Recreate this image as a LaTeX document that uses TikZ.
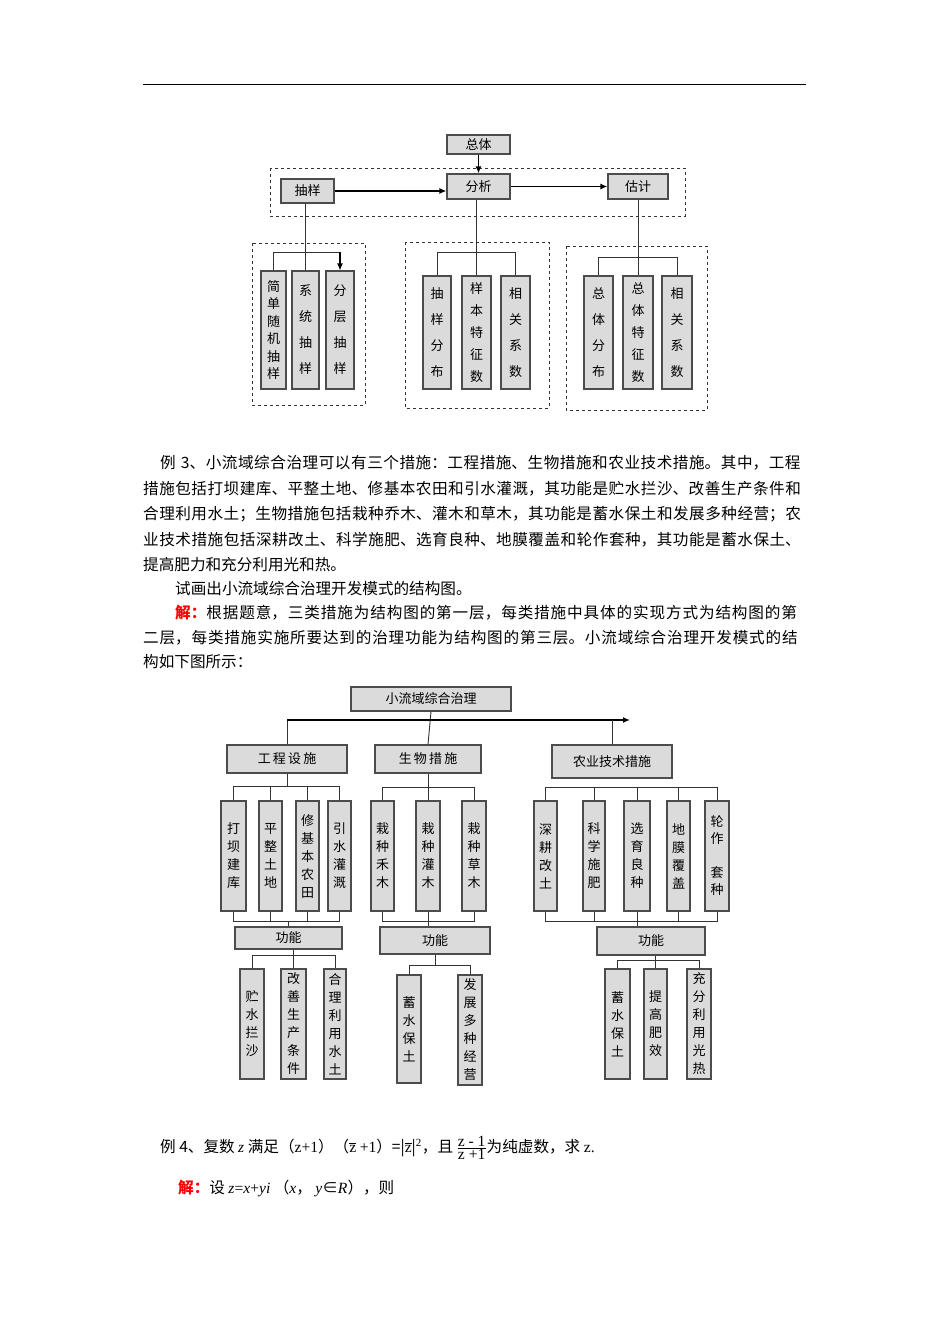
\documentclass[tikz,border=0pt]{standalone}
\usepackage{fontspec}
\usepackage{amsmath}
\newfontfamily\cjk{Noto Sans CJK SC}
\newfontfamily\lat{Liberation Serif}
\usetikzlibrary{arrows.meta,calc}
\XeTeXlinebreaklocale "zh"
\XeTeXlinebreakskip=0pt plus 3pt
\newcommand\iz[1]{{\lat\itshape #1}}
\newcommand\bx[7]{\node[bx,minimum width={(#4-#2)*1pt},minimum height={(#5-#3)*1pt},font=\cjk\fontsize{13}{#7}\selectfont] (#1) at ({(#2+#4)/2},{(#3+#5)/2}) {#6};}
\tikzset{
 bx/.style={draw=black!70,fill=black!14,line width=1.1pt,inner sep=0pt,align=center},
 dbox/.style={draw=black!80,dashed,line width=0.8pt},
 ln/.style={draw=black!80,line width=0.9pt},
 ar/.style={draw=black,line width=1.4pt,-{Latex[length=7pt,width=6pt]}},
 jline/.style={anchor=base west,inner sep=0pt,text width=663pt,font=\cjk\fontsize{15.6}{20}\selectfont,execute at begin node={\parfillskip=0pt\parindent=0pt}},
 pline/.style={anchor=base west,inner sep=0pt,font=\cjk\fontsize{15.6}{20}\selectfont}
}
\begin{document}
\begin{tikzpicture}[x=1pt,y=-1pt]
\useasboundingbox[fill=white] (0,0) rectangle (950,1344);
\draw[line width=0.8pt] (143,84) -- (806,84);
% ---------- top diagram
\draw[dbox] (270,168) rectangle (685,216);
\draw[dbox] (252,243) rectangle (365,405);
\draw[dbox] (405,242) rectangle (549,408);
\draw[dbox] (566,246) rectangle (707,410);
\bx{zt}{447}{135}{510}{154}{总体}{15}
\bx{cy}{281}{179}{334}{203}{抽样}{15}
\bx{fx}{447}{174}{510}{199}{分析}{15}
\bx{gj}{608}{174}{668}{199}{估计}{15}
\draw[ar] (zt.south) -- (fx.north);
\draw[ar] (cy.east) -- (cy.east -| fx.west);
\draw[ar] (fx.east |- gj.west) -- (gj.west);
\bx{a1}{261}{271}{286}{389}{简\\单\\随\\机\\抽\\样}{17.5}
\bx{a2}{292}{271}{319}{389}{系\\统\\抽\\样}{26}
\bx{a3}{326}{271}{354}{389}{分\\层\\抽\\样}{26}
\coordinate (ba) at (0,252);
\draw[ln] (a1.north) |- (ba -| a3.north);
\draw[ar,line width=1.1pt] (ba -| a3.north) -- (a3.north);
\draw[ln] (cy.south -| a2.north) -- (a2.north);
\bx{b1}{423}{276}{451}{389}{抽\\样\\分\\布}{26}
\bx{b2}{462}{276}{491}{389}{样\\本\\特\\征\\数}{22}
\bx{b3}{501}{276}{530}{389}{相\\关\\系\\数}{26}
\coordinate (bb) at (0,252);
\draw[ln] (b1.north) |- (bb -| b3.north) -- (b3.north);
\draw[ln] (fx.south -| b2.north) -- (b2.north);
\bx{c1}{584}{276}{613}{389}{总\\体\\分\\布}{26}
\bx{c2}{623}{276}{653}{389}{总\\体\\特\\征\\数}{22}
\bx{c3}{662}{276}{692}{389}{相\\关\\系\\数}{26}
\coordinate (bc) at (0,257);
\draw[ln] (c1.north) |- (bc -| c3.north) -- (c3.north);
\draw[ln] (gj.south -| c2.north) -- (c2.north);
% ---------- text
\node[jline] at (143,468) {\hspace*{17pt}例 3、小流域综合治理可以有三个措施：工程措施、生物措施和农业技术措施。其中，工程\par};
\node[jline] at (143,494) {措施包括打坝建库、平整土地、修基本农田和引水灌溉，其功能是贮水拦沙、改善生产条件和\par};
\node[jline] at (143,519) {合理利用水土；生物措施包括栽种乔木、灌木和草木，其功能是蓄水保土和发展多种经营；农\par};
\node[jline] at (143,545) {业技术措施包括深耕改土、科学施肥、选育良种、地膜覆盖和轮作套种，其功能是蓄水保土、\par};
\node[pline] at (143,570) {提高肥力和充分利用光和热。};
\node[pline] at (175,594) {试画出小流域综合治理开发模式的结构图。};
\node[jline,text width=631pt] at (175,618) {\textcolor{red}{\textbf{解：}}根据题意，三类措施为结构图的第一层，每类措施中具体的实现方式为结构图的第\par};
\node[jline] at (143,643) {二层，每类措施实施所要达到的治理功能为结构图的第三层。小流域综合治理开发模式的结\par};
\node[pline] at (143,667) {构如下图所示：};
% ---------- bottom diagram
\bx{rt}{351}{687}{511}{711}{小流域综合治理}{15}
\bx{g1}{227}{745}{347}{773}{工\,程\,设\,施}{15}
\bx{g2}{375}{745}{481}{773}{生\,物\,措\,施}{15}
\bx{g3}{552}{745}{672}{778}{农业技术措施}{15}
\coordinate (hy) at (0,720);
\draw[ln] (rt.south) -- (g2.north);
\draw[ln] (g1.north) |- (hy -| g3.north);
\draw[ar] (hy -| g1.north) -- ($(hy -| g3.north)+(18,0)$);
\draw[ln] (hy -| g3.north) -- (g3.north);
% engineering
\bx{e1}{221}{801}{246}{911}{打\\坝\\建\\库}{18}
\bx{e2}{259}{801}{282}{911}{平\\整\\土\\地}{18}
\bx{e3}{296}{801}{319}{911}{修\\基\\本\\农\\田}{18}
\bx{e4}{328}{801}{351}{911}{引\\水\\灌\\溉}{18}
\coordinate (y1) at (0,786); \coordinate (y2) at (0,921);
\draw[ln] (g1.south) -- (g1.south |- y1);
\draw[ln] (e1.north) |- (y1 -| e4.north) -- (e4.north);
\draw[ln] (e2.north) -- (e2.north |- y1); \draw[ln] (e3.north) -- (e3.north |- y1);
\bx{f1}{235}{927}{342}{949}{功能}{15}
\draw[ln] (e1.south) |- (y2 -| e4.south) -- (e4.south);
\draw[ln] (e2.south) -- (e2.south |- y2); \draw[ln] (e3.south) -- (e3.south |- y2);
\draw[ln] (f1.north) -- (f1.north |- y2);
\bx{h1}{240}{969}{264}{1079}{贮\\水\\拦\\沙}{18}
\bx{h2}{281}{969}{306}{1079}{改\\善\\生\\产\\条\\件}{18}
\bx{h3}{324}{969}{346}{1079}{合\\理\\利\\用\\水\\土}{18}
\coordinate (y3) at (0,955);
\draw[ln] (h1.north -| 252,0) |- (y3 -| h3.north) -- (h3.north);
\draw[ln] (f1.south -| h2.north) -- (h2.north);
% biology
\bx{s1}{371}{801}{394}{911}{栽\\种\\禾\\木}{18}
\bx{s2}{416}{801}{440}{911}{栽\\种\\灌\\木}{18}
\bx{s3}{462}{801}{486}{911}{栽\\种\\草\\木}{18}
\coordinate (y4) at (0,787);
\draw[ln] (s1.north) |- (y4 -| s3.north) -- (s3.north);
\draw[ln] (g2.south -| s2.north) -- (s2.north);
\bx{f2}{380}{927}{490}{954}{功能}{15}
\draw[ln] (s1.south) |- (y2 -| s3.south) -- (s3.south);
\draw[ln] (s2.south) -- (s2.south |- f2.north);
\bx{k1}{397}{975}{421}{1083}{蓄\\水\\保\\土}{18}
\bx{k2}{458}{975}{482}{1085}{发\\展\\多\\种\\经\\营}{18}
\coordinate (y5) at (0,965);
\draw[ln] (k1.north) |- (y5 -| k2.north) -- (k2.north);
\draw[ln] (f2.south) -- (f2.south |- y5);
% agriculture
\bx{n1}{534}{801}{557}{911}{深\\耕\\改\\土}{18}
\bx{n2}{583}{801}{605}{911}{科\\学\\施\\肥}{18}
\bx{n3}{624}{801}{650}{911}{选\\育\\良\\种}{18}
\bx{n4}{667}{801}{690}{911}{地\\膜\\覆\\盖}{18}
\bx{n5}{705}{801}{729}{911}{轮\\作\\\\套\\种}{17}
\draw[ln] (n1.north) |- (y4 -| n5.north) -- (n5.north);
\foreach \n in {n2,n3,n4} \draw[ln] (\n.north) -- (\n.north |- y4);
\draw[ln] (n1.south) |- (y2 -| n5.south) -- (n5.south);
\foreach \n in {n2,n4} \draw[ln] (\n.south) -- (\n.south |- y2);
\bx{f3}{597}{927}{705}{955}{功能}{15}
\draw[ln] (n3.south) -- (n3.south |- f3.north);
\bx{m1}{605}{969}{630}{1079}{蓄\\水\\保\\土}{18}
\bx{m2}{644}{969}{667}{1079}{提\\高\\肥\\效}{18}
\bx{m3}{687}{969}{711}{1079}{充\\分\\利\\用\\光\\热}{18}
\coordinate (y6) at (0,960);
\draw[ln] (m1.north) |- (y6 -| m3.north) -- (m3.north);
\draw[ln] (f3.south -| m2.north) -- (m2.north);
% ---------- example 4
\node[pline] at (160,1152) {例 4、复数 \iz{z} 满足（{\lat z+1}）（$\overline{\hbox{\lat z}}$ {\lat +1}）=|$\overline{\hbox{\lat z}}$|{\lat\textsuperscript{2}}，且 $\genfrac{}{}{0.6pt}{}{\hbox{\lat z - 1}}{\hbox{\lat z +1}}$为纯虚数，求 {\lat z.}};
\node[pline] at (178,1193) {\textcolor{red}{\textbf{解：}}设 \iz{z}{\lat =}\iz{x}{\lat +}\iz{yi} （\iz{x}，\ \iz{y}∈\iz{R}），则};
\end{tikzpicture}
\end{document}
